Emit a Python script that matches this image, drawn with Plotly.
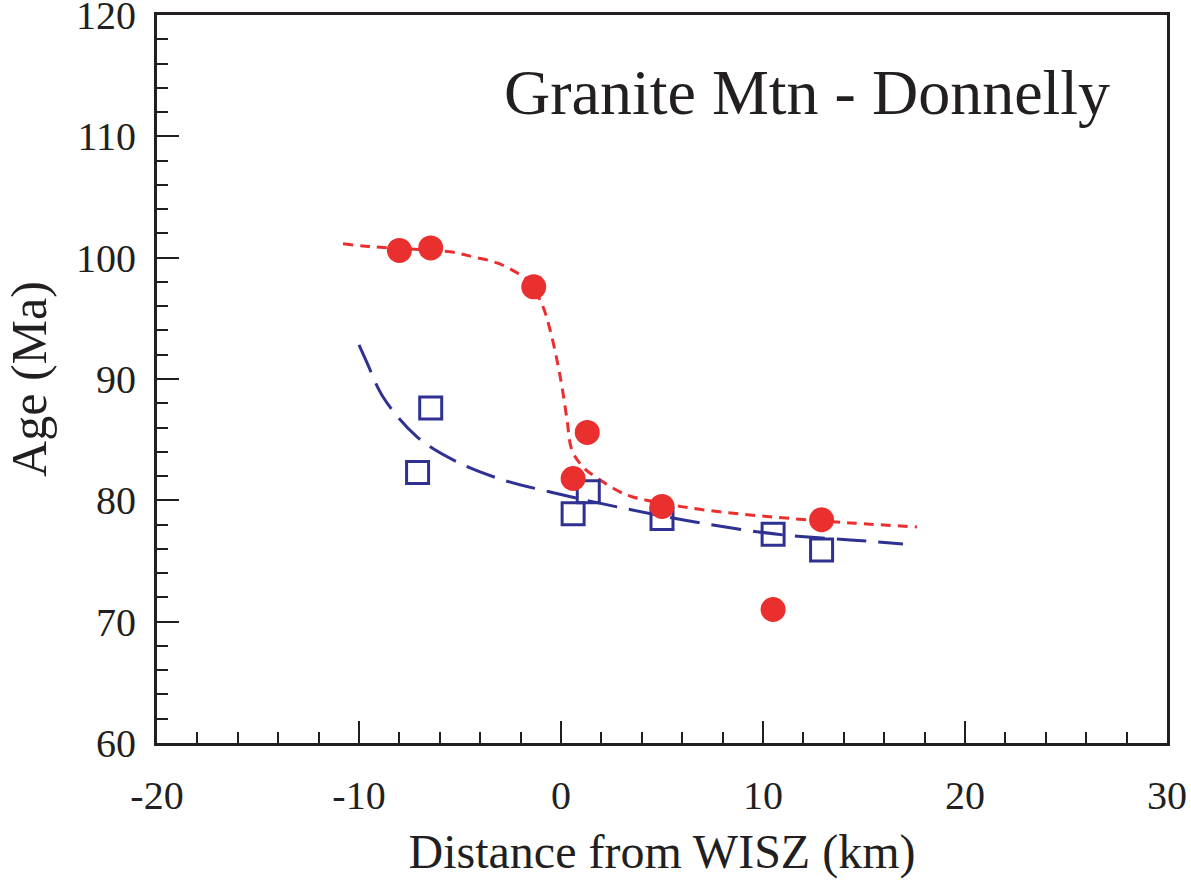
import plotly.graph_objects as go

# Data points
red_x = [-8.0, -6.45, -1.35, 1.3, 0.6, 5.0, 10.5, 12.9]
red_y = [100.6, 100.8, 97.6, 85.6, 81.8, 79.5, 71.0, 78.4]

blue_x = [-6.45, -7.1, 0.6, 1.35, 5.0, 10.5, 12.9]
blue_y = [87.6, 82.3, 78.9, 80.7, 78.5, 77.2, 75.9]

# Fitted curves
red_curve_x = [-10.79, -9.80, -8.61, -5.50, -4.36, -3.17, -2.18, -1.53, -0.89, -0.54, -0.20,
               0.05, 0.30, 0.54, 1.09, 1.78, 2.92, 3.56, 6.04, 9.36, 14.31, 17.62]
red_curve_y = [101.14, 100.97, 100.81, 100.48, 100.07, 99.57, 98.75, 97.92, 95.94, 94.05, 91.57,
               89.35, 86.63, 84.15, 82.75, 81.85, 80.69, 80.28, 79.46, 78.80, 78.14, 77.81]

blue_curve_x = [-10.0, -9.60, -8.81, -7.13, -5.15, -2.87, -0.54, 2.77, 6.88, 10.99, 14.31, 16.93]
blue_curve_y = [92.81, 91.33, 88.52, 85.23, 83.17, 81.68, 80.69, 79.46, 78.14, 77.15, 76.74, 76.41]

x_tick_vals = [-20, -10, 0, 10, 20, 30]
x_tick_text = ["-20", "-10", "0", "10", "20", "30"]
y_tick_vals = [60, 70, 80, 90, 100, 110, 120]
y_tick_text = ["60", "70", "80", "90", "100", "110", "120"]

RED = "#ea2f2f"
BLUE = "#2e3192"
INK = "#231f20"
FONT = "Liberation Serif"

fig = go.Figure()
fig.add_trace(go.Scatter(x=red_curve_x, y=red_curve_y, mode="lines",
                         line=dict(color=RED, width=3, dash="10px,7px", shape="spline"),
                         showlegend=False, hoverinfo="skip"))
fig.add_trace(go.Scatter(x=blue_curve_x, y=blue_curve_y, mode="lines",
                         line=dict(color=BLUE, width=3, dash="30px,12px", shape="spline"),
                         showlegend=False, hoverinfo="skip"))
fig.add_trace(go.Scatter(x=blue_x, y=blue_y, mode="markers",
                         marker=dict(symbol="square-open", size=22, color=BLUE,
                                     line=dict(width=3, color=BLUE)),
                         showlegend=False))
fig.add_trace(go.Scatter(x=red_x, y=red_y, mode="markers",
                         marker=dict(symbol="circle", size=25, color=RED, line=dict(width=0)),
                         showlegend=False))

axis_common = dict(
    showline=True, linewidth=3, linecolor=INK, mirror=True,
    ticks="inside", ticklen=22, tickwidth=2, tickcolor=INK,
    showgrid=False, zeroline=False, ticklabeloverflow="allow", automargin=False,
    tickfont=dict(family=FONT, size=40, color=INK),
)
minor_common = dict(ticks="inside", ticklen=11, dtick=2, tick0=0, tickwidth=2, tickcolor=INK)

fig.update_xaxes(range=[-20, 30], tickmode="array", tickvals=x_tick_vals, ticktext=x_tick_text,
                 minor=minor_common,
                 ticklabelstandoff=15,
                 title=dict(text="Distance from WISZ (km)", font=dict(family=FONT, size=48, color=INK),
                            standoff=18),
                 **axis_common)
fig.update_yaxes(range=[60, 120], tickmode="array", tickvals=y_tick_vals, ticktext=y_tick_text,
                 minor=minor_common,
                 ticklabelstandoff=10,
                 title=dict(text="Age (Ma)", font=dict(family=FONT, size=50, color=INK),
                            standoff=14),
                 **axis_common)

fig.add_annotation(text="Granite Mtn - Donnelly", x=0.9455, y=0.894, xref="paper", yref="paper",
                   xanchor="right", yanchor="middle", showarrow=False,
                   font=dict(family=FONT, size=64, color=INK))

fig.update_layout(width=1191, height=890, margin=dict(l=157, r=24, t=15, b=147),
                  plot_bgcolor="white", paper_bgcolor="white")

fig.write_html("out.html")
